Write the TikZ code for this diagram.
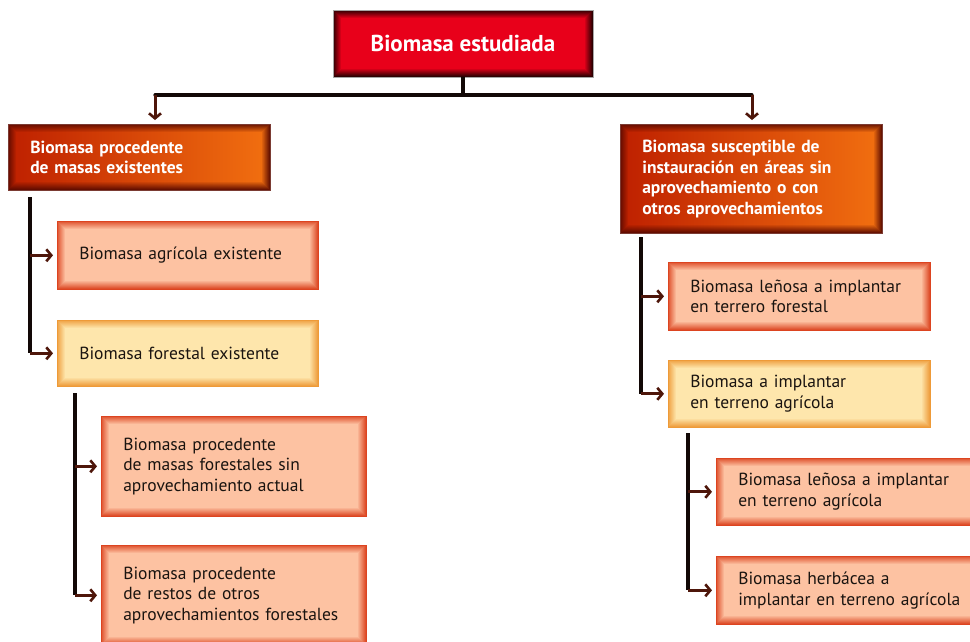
\documentclass[tikz,border=0pt]{standalone}
\usepackage{fontspec}
\setmainfont{PT Sans}
\usetikzlibrary{arrows.meta}

\definecolor{titlered}{HTML}{E8001A}
\definecolor{titleedge}{HTML}{1A0000}
\definecolor{mainleft}{HTML}{BE2000}
\definecolor{mainright}{HTML}{F27010}
\definecolor{mainedge}{HTML}{5A0A00}
\definecolor{salmon}{HTML}{FDC2A2}
\definecolor{salmonedge}{HTML}{DC4420}
\definecolor{cream}{HTML}{FEE6AC}
\definecolor{creamedge}{HTML}{EE9A38}
\definecolor{textdark}{HTML}{1A1410}
\definecolor{linedark}{HTML}{120806}
\definecolor{arrowbrown}{HTML}{4E160A}

\tikzset{
  % inner glow: frames of the edge colour fading towards the centre
  glow/.style={path picture={
    \foreach \i in {0,...,7}{
      \pgfmathsetmacro\op{0.9*(1-\i/8)}
      \draw[#1, line width=1.1pt, draw opacity=\op]
        ([shift={(\i*1pt+0.5pt,-\i*1pt-0.5pt)}]path picture bounding box.north west) rectangle
        ([shift={(-\i*1pt-0.5pt,\i*1pt+0.5pt)}]path picture bounding box.south east);
    }}},
  basebox/.style={anchor=north west, inner xsep=22pt, inner ysep=0pt, align=left,
    font=\fontsize{17.5}{20.5}\selectfont},
  titlebox/.style={fill=titlered, draw=gray!70, line width=0.6pt, glow=titleedge,
    text=white, font=\fontsize{23}{26}\selectfont\bfseries,
    minimum width=260pt, minimum height=67pt},
  mainbox/.style={basebox, left color=mainleft, right color=mainright, draw=mainedge!80,
    line width=0.6pt, glow=mainedge, text=white, font=\fontsize{17.5}{20.5}\selectfont\bfseries},
  salmonbox/.style={basebox, fill=salmon, draw=salmonedge, line width=0.6pt,
    glow=salmonedge, text=textdark},
  creambox/.style={basebox, fill=cream, draw=creamedge, line width=0.6pt,
    glow=creamedge, text=textdark},
  trunk/.style={line width=3.2pt, draw=linedark},
  branch/.style={line width=3pt, draw=arrowbrown, shorten >=4pt,
    -{Straight Barb[length=5pt,width=12pt,line width=2.6pt]}},
}

\begin{document}
\begin{tikzpicture}[x=1pt, y=-1pt]
\useasboundingbox (0,0) rectangle (970,641);

% top node
\node[titlebox] (top) at (463,43.5) {Biomasa estudiada};

% first level
\node[mainbox, text width=218pt, minimum height=66pt] (L1) at (8,124)
  {Biomasa procedente\\de masas existentes};
\node[mainbox, text width=218pt, minimum height=109pt] (R1) at (620,124)
  {Biomasa susceptible de\\instauración en áreas sin\\aprovechamiento o con\\otros aprovechamientos};

% left branch
\node[salmonbox, text width=217pt, minimum height=68pt] (L2) at (57,221)
  {Biomasa agrícola existente};
\node[creambox, text width=217pt, minimum height=66pt] (L3) at (57,320)
  {Biomasa forestal existente};
\node[salmonbox, text width=221pt, minimum height=100pt] (L4) at (101,416)
  {Biomasa procedente\\de masas forestales sin\\aprovechamiento actual};
\node[salmonbox, text width=221pt, minimum height=100pt] (L5) at (101,545)
  {Biomasa procedente\\de restos de otros\\aprovechamientos forestales};

% right branch (the last two boxes run past the right margin)
\node[salmonbox, text width=218pt, minimum height=68pt] (R2) at (668,262)
  {Biomasa leñosa a implantar\\en terrero forestal};
\node[creambox, text width=218pt, minimum height=67pt] (R3) at (668,360)
  {Biomasa a implantar\\en terreno agrícola};
\node[salmonbox, text width=240pt, minimum height=67pt] (R4) at (716,458)
  {Biomasa leñosa a implantar\\en terreno agrícola};
\node[salmonbox, text width=240pt, minimum height=68pt] (R5) at (716,556)
  {Biomasa herbácea a\\implantar en terreno agrícola};

% connectors from the top node
\coordinate (hub) at (463,95);
\coordinate (hl) at (155,95);
\coordinate (hr) at (752,95);
\draw[trunk] (top.south) -- (hub);
\draw[trunk, line cap=round] (hl) -- (hr);
\draw[branch] (hl) -- (hl |- L1.north);
\draw[branch] (hr) -- (hr |- R1.north);

% trunk under the left main node
\coordinate (lt) at (30,197);
\draw[trunk] (lt) -- (lt |- L3.west);
\draw[branch] (lt |- L2.west) -- (L2.west);
\draw[branch] (lt |- L3.west) -- (L3.west);

% trunk under the forest node
\coordinate (ft) at (75,393);
\draw[trunk] (ft) -- (ft |- L5.west);
\draw[branch] (ft |- L4.west) -- (L4.west);
\draw[branch] (ft |- L5.west) -- (L5.west);

% trunk under the right main node
\coordinate (rt) at (641,237);
\draw[trunk] (rt) -- (rt |- R3.west);
\draw[branch] (rt |- R2.west) -- (R2.west);
\draw[branch] (rt |- R3.west) -- (R3.west);

% trunk under the agricultural node
\coordinate (at) at (688,433);
\draw[trunk] (at) -- (at |- R5.west);
\draw[branch] (at |- R4.west) -- (R4.west);
\draw[branch] (at |- R5.west) -- (R5.west);
\end{tikzpicture}
\end{document}
